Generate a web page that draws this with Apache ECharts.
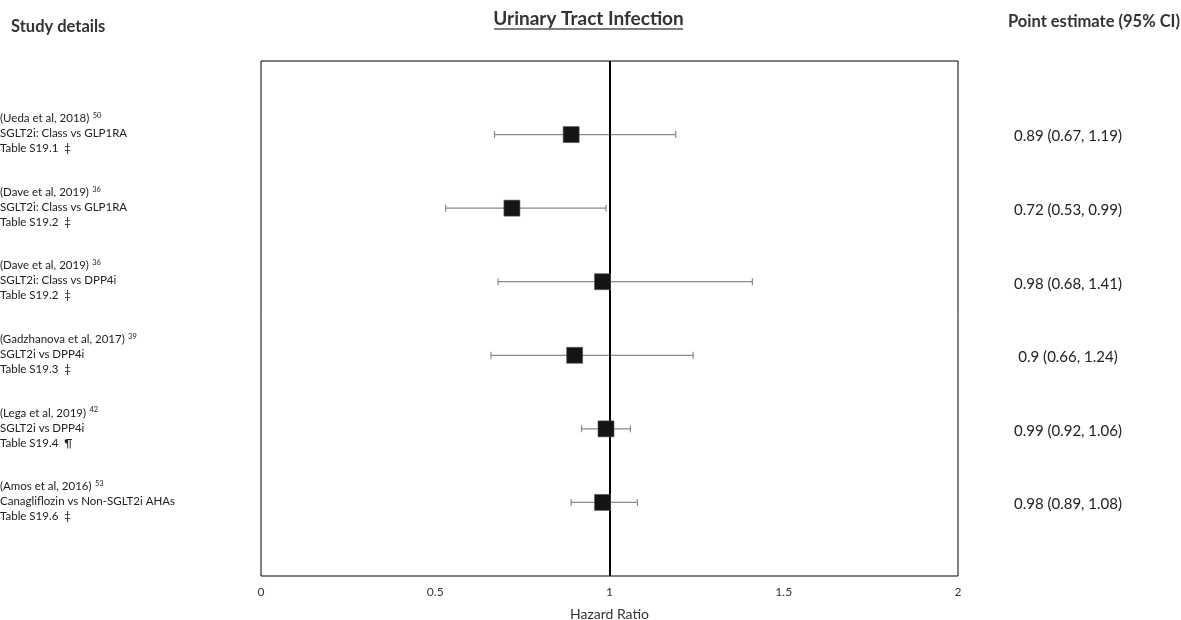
<!DOCTYPE html>
<html><head><meta charset="utf-8">
<script src="https://cdn.jsdelivr.net/npm/echarts@6/dist/echarts.min.js"></script>
<style>html,body{margin:0;padding:0;background:#fff}#c{width:1181px;height:620px}</style>
</head><body><div id="c"></div>
<script>
// ---- data ----
const studies = ['(Ueda et al, 2018)', '(Dave et al, 2019)', '(Dave et al, 2019)', '(Gadzhanova et al, 2017)', '(Lega et al, 2019)', '(Amos et al, 2016)'];
const refs = ['50', '36', '36', '39', '42', '53'];
const comparisons = ['SGLT2i: Class vs GLP1RA', 'SGLT2i: Class vs GLP1RA', 'SGLT2i: Class vs DPP4i', 'SGLT2i vs DPP4i', 'SGLT2i vs DPP4i', 'Canagliflozin vs Non-SGLT2i AHAs'];
const tables = ['Table S19.1  \u2021', 'Table S19.2  \u2021', 'Table S19.2  \u2021', 'Table S19.3  \u2021', 'Table S19.4  \u00B6', 'Table S19.6  \u2021'];
const hr = [0.89, 0.72, 0.98, 0.9, 0.99, 0.98];
const lower = [0.67, 0.53, 0.68, 0.66, 0.92, 0.89];
const upper = [1.19, 0.99, 1.41, 1.24, 1.06, 1.08];
const rows = [1, 2, 3, 4, 5, 6];
const xTicks = [0, 0.5, 1, 1.5, 2];

const FONT = 'Lato, Carlito, Calibri, sans-serif';
const chart = echarts.init(document.getElementById('c'), null, {renderer: 'canvas'});

const option = {
  animation: false,
  textStyle: {fontFamily: FONT},
  graphic: [
    {type: 'text', x: 11, y: 27, style: {text: 'Study details', font: 'bold 16.5px ' + FONT, fill: '#333', verticalAlign: 'middle'}},
    {type: 'text', x: 588.5, y: 19, style: {text: 'Urinary Tract Infection', font: 'bold 19px ' + FONT, fill: '#333', align: 'center', verticalAlign: 'middle'}},
    {type: 'line', shape: {x1: 494, y1: 29, x2: 683, y2: 29}, style: {stroke: '#555', lineWidth: 1.5}},
    {type: 'text', x: 1180, y: 22, style: {text: 'Point estimate (95% CI)', font: 'bold 16.5px ' + FONT, fill: '#333', align: 'right', verticalAlign: 'middle'}}
  ],
  grid: {left: 261, top: 61, width: 697, height: 515, show: true, borderColor: '#000', borderWidth: 1,
    backgroundColor: 'transparent', containLabel: false, outerBoundsMode: 'none'},
  xAxis: {
    type: 'value', min: 0, max: 2, interval: 0.5,
    axisLine: {show: false}, axisTick: {show: false}, splitLine: {show: false},
    axisLabel: {color: '#333', fontSize: 12, fontFamily: FONT, margin: 10,
      formatter: v => xTicks.includes(v) ? String(v) : ''},
    name: 'Hazard Ratio', nameLocation: 'middle', nameGap: 31,
    nameTextStyle: {color: '#333', fontSize: 14, fontFamily: FONT}
  },
  yAxis: {type: 'value', min: 0, max: 7, inverse: true, show: false, splitLine: {show: false}},
  series: [
    {
      type: 'custom', silent: true, z: 2,
      encode: {x: [1, 2], y: 0},
      data: rows.map((r, i) => [r, lower[i], upper[i]]),
      renderItem: (params, api) => {
        const r = api.value(0);
        const a = api.coord([api.value(1), r]);
        const b = api.coord([api.value(2), r]);
        const st = {stroke: '#8a8a8a', lineWidth: 1.2};
        return {type: 'group', children: [
          {type: 'line', shape: {x1: a[0], y1: a[1], x2: b[0], y2: b[1]}, style: st},
          {type: 'line', shape: {x1: a[0], y1: a[1] - 3.5, x2: a[0], y2: a[1] + 3.5}, style: st},
          {type: 'line', shape: {x1: b[0], y1: b[1] - 3.5, x2: b[0], y2: b[1] + 3.5}, style: st}
        ]};
      }
    },
    {
      type: 'scatter', z: 4,
      symbol: 'rect', symbolSize: 16,
      itemStyle: {color: '#141414', borderColor: '#555', borderWidth: 0.6, opacity: 1},
      data: hr.map((v, i) => [v, rows[i]]),
      markLine: {
        silent: true, symbol: ['none', 'none'], label: {show: false}, z: 3,
        lineStyle: {color: '#000', width: 2, type: 'solid'},
        data: [{xAxis: 1}]
      }
    },
    {
      type: 'custom', silent: true, clip: false, z: 5,
      encode: {x: 0, y: 1},
      data: rows.map(r => [0, r]),
      renderItem: (params, api) => {
        const i = params.dataIndex;
        const y = api.coord([0, api.value(1)])[1];
        const est = hr[i] + ' (' + lower[i] + ', ' + upper[i] + ')';
        return {type: 'group', children: [
          {type: 'text', x: 0, y: y - 16, style: {
            text: '{a|' + studies[i] + '} {s|' + refs[i] + '}',
            verticalAlign: 'middle', align: 'left',
            rich: {a: {fontSize: 11.5, fontFamily: FONT, fill: '#222', lineHeight: 14},
                   s: {fontSize: 7.5, fontFamily: FONT, fill: '#222', verticalAlign: 'top', lineHeight: 14}}
          }},
          {type: 'text', x: 0, y: y - 1, style: {text: comparisons[i], font: '11.5px ' + FONT, fill: '#222', verticalAlign: 'middle', align: 'left'}},
          {type: 'text', x: 0, y: y + 14, style: {text: tables[i], font: '11.5px ' + FONT, fill: '#222', verticalAlign: 'middle', align: 'left'}},
          {type: 'text', x: 1068, y: y + 2, style: {text: est, font: '15px ' + FONT, fill: '#222', verticalAlign: 'middle', align: 'center'}}
        ]};
      }
    }
  ]
};
chart.setOption(option);
</script>
</body></html>
